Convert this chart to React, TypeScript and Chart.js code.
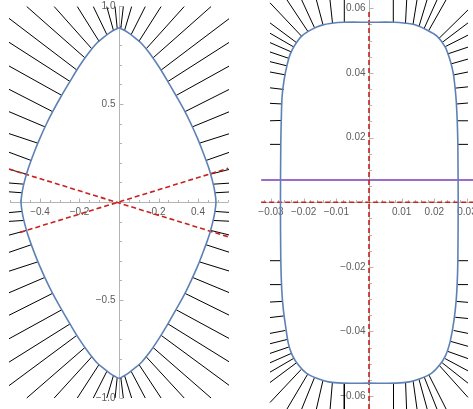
import React, { useEffect, useRef } from "react";
import { Chart, registerables } from "chart.js";

Chart.register(...registerables);

type Pt = [number, number];
type Seg = [number, number, number, number];

// ---------- LEFT PANEL DATA ----------
const leftBoundary: Pt[] = [
  [0, 0.889], [-0.022, 0.879], [-0.046, 0.864], [-0.078, 0.84], [-0.113, 0.81], [-0.155, 0.759],
  [-0.203, 0.69], [-0.25, 0.612], [-0.294, 0.537], [-0.336, 0.461], [-0.37, 0.393], [-0.4, 0.326],
  [-0.424, 0.268], [-0.445, 0.212], [-0.463, 0.16], [-0.478, 0.108], [-0.489, 0.058], [-0.496, 0],
  [-0.489, -0.059], [-0.478, -0.109], [-0.463, -0.162], [-0.445, -0.215], [-0.424, -0.271],
  [-0.4, -0.33], [-0.37, -0.397], [-0.336, -0.466], [-0.294, -0.543], [-0.25, -0.619],
  [-0.203, -0.697], [-0.155, -0.767], [-0.113, -0.819], [-0.078, -0.849], [-0.046, -0.874],
  [-0.022, -0.889], [0, -0.899],
  [0.022, -0.889], [0.046, -0.874], [0.078, -0.849], [0.113, -0.819], [0.155, -0.767],
  [0.202, -0.697], [0.249, -0.619], [0.292, -0.543], [0.334, -0.466], [0.367, -0.397],
  [0.397, -0.33], [0.42, -0.271], [0.441, -0.215], [0.459, -0.162], [0.473, -0.109],
  [0.484, -0.059], [0.491, 0],
  [0.484, 0.058], [0.473, 0.108], [0.459, 0.16], [0.441, 0.212], [0.42, 0.268], [0.397, 0.326],
  [0.367, 0.393], [0.334, 0.461], [0.292, 0.537], [0.249, 0.612], [0.202, 0.69], [0.155, 0.759],
  [0.113, 0.81], [0.078, 0.84], [0.046, 0.864], [0.022, 0.879], [0, 0.889],
];

const leftWhiskersUL: Seg[] = [
  [-0.009, 0.885, -0.02, 0.997], [-0.028, 0.875, -0.062, 0.997], [-0.061, 0.853, -0.13, 0.997],
  [-0.101, 0.82, -0.211, 0.997], [-0.137, 0.781, -0.328, 0.997], [-0.172, 0.735, -0.467, 0.997],
  [-0.213, 0.673, -0.557, 0.937], [-0.248, 0.615, -0.557, 0.815], [-0.29, 0.544, -0.557, 0.694],
  [-0.336, 0.461, -0.557, 0.575], [-0.374, 0.383, -0.557, 0.461], [-0.411, 0.3, -0.557, 0.349],
  [-0.445, 0.212, -0.557, 0.254], [-0.468, 0.142, -0.557, 0.167], [-0.482, 0.091, -0.557, 0.097],
  [-0.49, 0.047, -0.557, 0.052],
];
const leftWhiskersUR: Seg[] = [
  [0.009, 0.885, 0.022, 0.997], [0.028, 0.875, 0.064, 0.997], [0.061, 0.853, 0.133, 0.997],
  [0.101, 0.82, 0.213, 0.997], [0.137, 0.781, 0.33, 0.997], [0.172, 0.735, 0.466, 0.997],
  [0.213, 0.673, 0.557, 0.935], [0.248, 0.615, 0.557, 0.814], [0.29, 0.544, 0.557, 0.693],
  [0.334, 0.461, 0.557, 0.574], [0.371, 0.383, 0.557, 0.46], [0.407, 0.3, 0.557, 0.348],
  [0.441, 0.212, 0.557, 0.253], [0.464, 0.142, 0.557, 0.166], [0.477, 0.091, 0.557, 0.096],
  [0.485, 0.047, 0.557, 0.051],
];
const leftWhiskersLL: Seg[] = [
  [-0.009, -0.895, -0.02, -1.0], [-0.028, -0.885, -0.062, -1.0], [-0.061, -0.863, -0.13, -1.0],
  [-0.101, -0.829, -0.211, -1.0], [-0.137, -0.789, -0.328, -1.0], [-0.172, -0.742, -0.467, -1.0],
  [-0.213, -0.68, -0.557, -0.937], [-0.248, -0.622, -0.557, -0.817], [-0.29, -0.55, -0.557, -0.698],
  [-0.336, -0.466, -0.557, -0.578], [-0.376, -0.385, -0.557, -0.463], [-0.41, -0.305, -0.557, -0.353],
  [-0.444, -0.218, -0.557, -0.257], [-0.468, -0.145, -0.557, -0.169], [-0.481, -0.094, -0.557, -0.099],
  [-0.49, -0.048, -0.557, -0.054],
];
const leftWhiskersLR: Seg[] = [
  [0.009, -0.895, 0.022, -1.0], [0.028, -0.885, 0.064, -1.0], [0.061, -0.863, 0.133, -1.0],
  [0.101, -0.829, 0.213, -1.0], [0.137, -0.789, 0.33, -1.0], [0.172, -0.742, 0.466, -1.0],
  [0.213, -0.68, 0.557, -0.935], [0.248, -0.622, 0.557, -0.815], [0.29, -0.55, 0.557, -0.696],
  [0.334, -0.466, 0.557, -0.577], [0.373, -0.385, 0.557, -0.462], [0.406, -0.305, 0.557, -0.352],
  [0.44, -0.218, 0.557, -0.256], [0.464, -0.145, 0.557, -0.168], [0.477, -0.094, 0.557, -0.098],
  [0.485, -0.048, 0.557, -0.053],
];
const leftRedLineA: Pt[] = [[-0.557, 0.168], [0.565, -0.181]];
const leftRedLineB: Pt[] = [[-0.501, -0.155], [0.553, 0.172]];

const leftXTicks = [-0.4, -0.2, 0.2, 0.4];
const leftYTicks = [-1.0, -0.5, 0.5, 1.0];

// ---------- RIGHT PANEL DATA ----------
const rightBoundary: Pt[] = [
  [0.0273, 0], [0.0272, 0.018], [0.027, 0.0253], [0.0268, 0.0296], [0.0266, 0.0327], [0.0263, 0.0358],
  [0.0258, 0.0399], [0.0248, 0.044], [0.0233, 0.0481], [0.0208, 0.0514], [0.0177, 0.0533],
  [0.0141, 0.0549], [0.0112, 0.0554], [0.0076, 0.0557], [0, 0.0557],
  [-0.0076, 0.0557], [-0.0114, 0.0554], [-0.0144, 0.0548], [-0.0175, 0.0535], [-0.0206, 0.0514],
  [-0.0227, 0.0486], [-0.0242, 0.0456], [-0.0252, 0.0419], [-0.026, 0.0378], [-0.0266, 0.0327],
  [-0.0268, 0.0275], [-0.027, 0.018], [-0.0271, 0],
  [-0.027, -0.018], [-0.0267, -0.0272], [-0.0262, -0.0334], [-0.0255, -0.0386], [-0.0247, -0.0437],
  [-0.0235, -0.0473], [-0.0216, -0.0504], [-0.0191, -0.053], [-0.016, -0.0545], [-0.0124, -0.0556],
  [-0.0084, -0.056], [0, -0.056],
  [0.0084, -0.056], [0.0124, -0.0556], [0.016, -0.0545], [0.0191, -0.053], [0.0216, -0.0504],
  [0.0235, -0.0473], [0.0247, -0.0437], [0.0257, -0.0386], [0.0264, -0.0334], [0.0269, -0.0272],
  [0.0272, -0.018], [0.0273, 0],
];

const rightWhiskersUL: Seg[] = [
  [-0.00756, 0.0557, -0.00756, 0.0626], [-0.01117, 0.0554, -0.01194, 0.0626],
  [-0.01408, 0.0549, -0.0161, 0.0626], [-0.01668, 0.054, -0.0206, 0.0626],
  [-0.01867, 0.0528, -0.0251, 0.0626], [-0.02066, 0.0514, -0.0303, 0.0617],
  [-0.02219, 0.0494, -0.0303, 0.0555], [-0.02296, 0.048, -0.0303, 0.0523],
  [-0.02378, 0.0465, -0.0303, 0.0494], [-0.02449, 0.0445, -0.0303, 0.0465],
  [-0.0251, 0.0422, -0.0303, 0.0435], [-0.02556, 0.0394, -0.0303, 0.0403],
  [-0.02611, 0.0349, -0.0303, 0.0354], [-0.02657, 0.0304, -0.0303, 0.0306],
  [-0.02675, 0.0253, -0.0303, 0.0252], [-0.02694, 0.0179, -0.0303, 0.0179],
];
const rightWhiskersLL: Seg[] = [
  [-0.00756, -0.056, -0.00756, -0.064], [-0.0112, -0.0557, -0.0119, -0.064],
  [-0.0141, -0.0552, -0.0161, -0.064], [-0.0167, -0.0543, -0.0206, -0.064],
  [-0.0187, -0.0531, -0.0251, -0.064], [-0.0207, -0.0517, -0.0303, -0.062],
  [-0.0222, -0.0497, -0.0303, -0.0558], [-0.023, -0.0483, -0.0303, -0.0526],
  [-0.0238, -0.0468, -0.0303, -0.0497], [-0.0245, -0.0448, -0.0303, -0.0468],
  [-0.0251, -0.0425, -0.0303, -0.0438], [-0.0256, -0.0397, -0.0303, -0.0406],
  [-0.0261, -0.0352, -0.0303, -0.0357], [-0.0266, -0.0307, -0.0303, -0.0309],
  [-0.0268, -0.0255, -0.0303, -0.0255], [-0.0269, -0.0181, -0.0303, -0.0181],
];
const rightWhiskersUR: Seg[] = [
  [0.00744, 0.0557, 0.00744, 0.0626], [0.01117, 0.0554, 0.01154, 0.0626],
  [0.01347, 0.055, 0.01469, 0.0626], [0.0153, 0.0544, 0.01775, 0.0626],
  [0.01684, 0.0537, 0.02081, 0.0626], [0.01821, 0.053, 0.02357, 0.0626],
  [0.02143, 0.0507, 0.0303, 0.0595], [0.02234, 0.0494, 0.0303, 0.0555],
  [0.02326, 0.0481, 0.0303, 0.0517], [0.02412, 0.0459, 0.0303, 0.048],
  [0.0251, 0.0428, 0.0303, 0.0443], [0.02593, 0.0394, 0.0303, 0.0403],
  [0.02632, 0.0353, 0.0303, 0.0357], [0.02684, 0.0304, 0.0303, 0.0307],
  [0.02706, 0.0252, 0.0303, 0.0252], [0.02724, 0.0179, 0.0303, 0.0179],
];
const rightWhiskersLR: Seg[] = [
  [0.0075, -0.056, 0.0075, -0.064], [0.0112, -0.0558, 0.0115, -0.064],
  [0.0135, -0.0553, 0.0147, -0.064], [0.0153, -0.0548, 0.0178, -0.064],
  [0.0169, -0.0541, 0.0208, -0.064], [0.0183, -0.0534, 0.0236, -0.064],
  [0.0215, -0.0505, 0.0303, -0.0604], [0.0224, -0.0497, 0.0303, -0.056],
  [0.0233, -0.0484, 0.0303, -0.0522], [0.0242, -0.0462, 0.0303, -0.0484],
  [0.0251, -0.0431, 0.0303, -0.0446], [0.0259, -0.0397, 0.0303, -0.0406],
  [0.0264, -0.0356, 0.0303, -0.036], [0.0268, -0.0307, 0.0303, -0.031],
  [0.0271, -0.0255, 0.0303, -0.0255], [0.0272, -0.0181, 0.0303, -0.0181],
];
const rightRedVertical: Pt[] = [[0, -0.064], [0, 0.0589]];
const rightRedHorizontal: Pt[] = [[-0.033, 0], [0.033, 0]];
const rightPurpleLine: Pt[] = [[-0.033, 0.0069], [0.033, 0.0069]];

const rightXTicks = [-0.03, -0.02, -0.01, 0.01, 0.02, 0.03];
const rightYTicks = [-0.06, -0.04, -0.02, 0.02, 0.04, 0.06];

// ---------- COLORS ----------
const BLUE = "#5e81b5";
const RED = "#c8221f";
const PURPLE = "#7a3db8";
const WHISKER = "#000000";

const toPts = (p: Pt[]) => p.map(([x, y]) => ({ x, y }));
const segPts = (lists: Seg[][]) => {
  const out: any[] = [];
  lists.forEach((l) =>
    l.forEach(([x1, y1, x2, y2]) => {
      out.push({ x: x1, y: y1 }, { x: x2, y: y2 }, { x: null, y: null });
    })
  );
  return out;
};

interface AxisCfg {
  xLine: [number, number];
  yLine: [number, number];
  xMajor: number[];
  yMajor: number[];
  xMinorStep: number;
  yMinorStep: number;
  xDigits: number;
  yDigits: number;
}

const fmt = (v: number, d: number) => (v < 0 ? "\u2212" : "") + Math.abs(v).toFixed(d);

function axesPlugin(cfg: AxisCfg) {
  return {
    id: "mmaAxes",
    beforeDatasetsDraw(chart: any) {
      const { ctx } = chart;
      const xs = chart.scales.x;
      const ys = chart.scales.y;
      const x0 = Math.round(xs.getPixelForValue(0)) + 0.5;
      const y0 = Math.round(ys.getPixelForValue(0)) + 0.5;
      ctx.save();
      ctx.strokeStyle = "#b4b4b4";
      ctx.lineWidth = 1;
      ctx.beginPath();
      ctx.moveTo(xs.getPixelForValue(cfg.xLine[0]), y0);
      ctx.lineTo(xs.getPixelForValue(cfg.xLine[1]), y0);
      ctx.moveTo(x0, ys.getPixelForValue(cfg.yLine[0]));
      ctx.lineTo(x0, ys.getPixelForValue(cfg.yLine[1]));
      const nx = Math.round((cfg.xLine[1] - cfg.xLine[0]) / cfg.xMinorStep) + 2;
      const sx = Math.ceil(cfg.xLine[0] / cfg.xMinorStep);
      for (let i = 0; i < nx; i++) {
        const v = (sx + i) * cfg.xMinorStep;
        if (v > cfg.xLine[1] + 1e-9) break;
        const p = Math.round(xs.getPixelForValue(v)) + 0.5;
        const major = cfg.xMajor.some((m) => Math.abs(m - v) < cfg.xMinorStep / 10);
        ctx.moveTo(p, y0);
        ctx.lineTo(p, y0 - (major ? 4 : 2.5));
      }
      const ny = Math.round((cfg.yLine[1] - cfg.yLine[0]) / cfg.yMinorStep) + 2;
      const sy = Math.ceil(cfg.yLine[0] / cfg.yMinorStep);
      for (let i = 0; i < ny; i++) {
        const v = (sy + i) * cfg.yMinorStep;
        if (v > cfg.yLine[1] + 1e-9) break;
        const p = Math.round(ys.getPixelForValue(v)) + 0.5;
        const major = cfg.yMajor.some((m) => Math.abs(m - v) < cfg.yMinorStep / 10);
        ctx.moveTo(x0, p);
        ctx.lineTo(x0 + (major ? 4 : 2.5), p);
      }
      ctx.stroke();
      ctx.fillStyle = "#5c5c5c";
      ctx.font = '10px "Liberation Sans", Arial, sans-serif';
      ctx.textAlign = "center";
      ctx.textBaseline = "middle";
      cfg.xMajor.forEach((v) => {
        ctx.fillText(fmt(v, cfg.xDigits), xs.getPixelForValue(v), y0 + 10);
      });
      ctx.textAlign = "right";
      cfg.yMajor.forEach((v) => {
        ctx.fillText(fmt(v, cfg.yDigits), x0 - 4, ys.getPixelForValue(v));
      });
      ctx.restore();
    },
  };
}

function baseOptions(xmin: number, xmax: number, ymin: number, ymax: number): any {
  return {
    animation: false,
    responsive: false,
    maintainAspectRatio: false,
    events: [],
    layout: { padding: 0 },
    plugins: { legend: { display: false }, tooltip: { enabled: false } },
    elements: { point: { radius: 0 } },
    scales: {
      x: { type: "linear", min: xmin, max: xmax, display: false, bounds: "data" },
      y: { type: "linear", min: ymin, max: ymax, display: false, bounds: "data" },
    },
  };
}

function LeftChart() {
  const ref = useRef<HTMLCanvasElement>(null);
  useEffect(() => {
    if (!ref.current) return;
    const chart = new Chart(ref.current, {
      type: "scatter",
      data: {
        datasets: [
          { data: toPts(leftBoundary), showLine: true, borderColor: BLUE, borderWidth: 1.6, tension: 0.35, pointRadius: 0 },
          { data: toPts(leftRedLineA), showLine: true, borderColor: RED, borderWidth: 1.6, borderDash: [5, 3], pointRadius: 0 },
          { data: toPts(leftRedLineB), showLine: true, borderColor: RED, borderWidth: 1.6, borderDash: [5, 3], pointRadius: 0 },
          {
            data: segPts([leftWhiskersUL, leftWhiskersUR, leftWhiskersLL, leftWhiskersLR]),
            showLine: true, borderColor: WHISKER, borderWidth: 1, pointRadius: 0, spanGaps: false,
          },
        ],
      } as any,
      options: baseOptions(-0.6025, 0.6025, -1.0561, 1.0306),
      plugins: [
        axesPlugin({
          xLine: [-0.552, 0.552], yLine: [-1.0, 1.0],
          xMajor: leftXTicks, yMajor: leftYTicks,
          xMinorStep: 0.05, yMinorStep: 0.1, xDigits: 1, yDigits: 1,
        }),
      ],
    });
    return () => chart.destroy();
  }, []);
  return <canvas ref={ref} width={238} height={409} style={{ position: "absolute", left: 0, top: 0 }} />;
}

function RightChart() {
  const ref = useRef<HTMLCanvasElement>(null);
  useEffect(() => {
    if (!ref.current) return;
    const chart = new Chart(ref.current, {
      type: "scatter",
      data: {
        datasets: [
          { data: toPts(rightBoundary), showLine: true, borderColor: BLUE, borderWidth: 1.6, tension: 0.3, pointRadius: 0 },
          { data: toPts(rightRedVertical), showLine: true, borderColor: RED, borderWidth: 1.6, borderDash: [5, 3], pointRadius: 0 },
          { data: toPts(rightRedHorizontal), showLine: true, borderColor: RED, borderWidth: 1.6, borderDash: [5, 3], pointRadius: 0 },
          { data: toPts(rightPurpleLine), showLine: true, borderColor: PURPLE, borderWidth: 1.5, pointRadius: 0 },
          {
            data: segPts([rightWhiskersUL, rightWhiskersUR, rightWhiskersLL, rightWhiskersLR]),
            showLine: true, borderColor: WHISKER, borderWidth: 1, pointRadius: 0, spanGaps: false,
          },
        ],
      } as any,
      options: baseOptions(-0.039486, 0.039486, -0.064, 0.06258),
      plugins: [
        axesPlugin({
          xLine: [-0.033, 0.033], yLine: [-0.064, 0.0626],
          xMajor: rightXTicks, yMajor: rightYTicks,
          xMinorStep: 0.002, yMinorStep: 0.005, xDigits: 2, yDigits: 2,
        }),
      ],
    });
    return () => chart.destroy();
  }, []);
  return <canvas ref={ref} width={258} height={409} style={{ position: "absolute", left: 240, top: 0 }} />;
}

export default function App() {
  return (
    <div
      style={{
        position: "fixed", left: 0, top: 0, width: 473, height: 409,
        overflow: "hidden", background: "#ffffff",
      }}
    >
      <LeftChart />
      <RightChart />
    </div>
  );
}
